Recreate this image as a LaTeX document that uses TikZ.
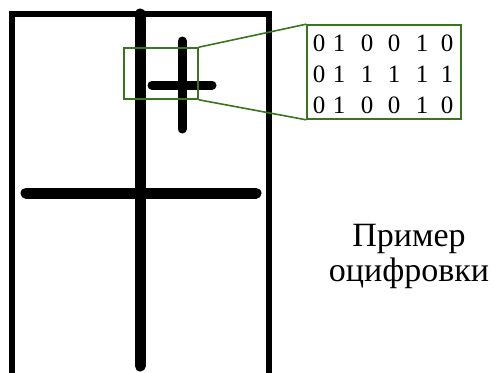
\documentclass[tikz,border=0pt]{standalone}
\usepackage{fontspec}
\setmainfont{Liberation Serif}
\definecolor{zoomgreen}{RGB}{58,116,30}
\usetikzlibrary{positioning}

\begin{document}
\begin{tikzpicture}[
  x=1pt, y=-1pt,
  stroke/.style={line width=11pt, line cap=round},
  frame/.style={line width=5.5pt},
  lens/.style={draw=zoomgreen, line width=1.6pt, inner sep=0pt},
  digit/.style={font=\fontsize{25}{25}\selectfont, inner sep=0pt}
]
\useasboundingbox (0,0) rectangle (495,372);
\draw[frame] (12,374) -- (12,14) -- (269,14) -- (269,374);
% large cross
\draw[stroke] (140,14) -- (140,366);
\draw[stroke] (26,193) -- (256,193);
% small cross
\draw[stroke, line width=9pt] (182,41) -- (182,129);
\draw[stroke, line width=9pt] (152,85) -- (212,85);
% zoom window and its code
\node[lens, minimum width=74pt, minimum height=51pt] (win) at (161,73.5) {};
\node[lens, minimum width=154pt, minimum height=94pt] (code) at (384,72) {};
\draw[lens] (win.north east) -- (code.north west);
\draw[lens] (win.south east) -- (code.south west);
\foreach \bits [count=\r] in {{0,1,0,0,1,0},{0,1,1,1,1,1},{0,1,0,0,1,0}}
  \foreach \d [count=\c] in \bits {
    \pgfmathsetmacro\xd{{319,339,367,394,422,447}[\c-1]}
    \node[digit] (d\r\c) at (\xd,12+31*\r) {\d};
  }
\node[align=center, font=\fontsize{34}{35}\selectfont] (caption) at (409,256) {Пример\\оцифровки};
\end{tikzpicture}
\end{document}
